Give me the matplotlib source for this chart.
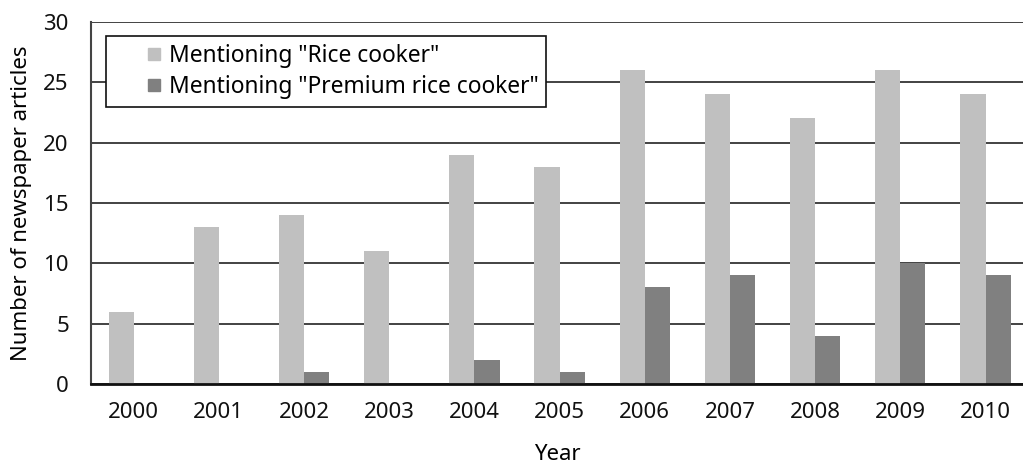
import matplotlib
matplotlib.use('Agg')
from matplotlib import pyplot as plt
from matplotlib.lines import Line2D
import numpy as np

years = ['2000', '2001', '2002', '2003', '2004', '2005',
         '2006', '2007', '2008', '2009', '2010']
rice_cooker = [6, 13, 14, 11, 19, 18, 26, 24, 22, 26, 24]
premium_rice_cooker = [0, 0, 1, 0, 2, 1, 8, 9, 4, 10, 9]
labels = ['Mentioning "Rice cooker"', 'Mentioning "Premium rice cooker"']
colors = ['#c0c0c0', '#808080']

plt.rcParams['font.family'] = ['Noto Sans', 'DejaVu Sans']

fig = plt.figure(figsize=(10.23, 4.65), dpi=100)
ax = fig.add_axes([0.089, 0.174, 0.911, 0.779])

x = np.arange(len(years))
w = 0.295
ax.bar(x - w / 2, rice_cooker, w, color=colors[0], zorder=2)
ax.bar(x + w / 2, premium_rice_cooker, w, color=colors[1], zorder=2)

ax.set_ylim(0, 30)
ax.set_yticks(range(0, 31, 5))
ax.set_xlim(-0.5, 10.44)
ax.set_xticks(x)
ax.set_xticklabels(years)
ax.yaxis.grid(True, color='#222222', linewidth=1.2, zorder=1)
ax.set_axisbelow(True)

for s in ['top', 'right']:
    ax.spines[s].set_visible(False)
ax.spines['left'].set_color('#444444')
ax.spines['left'].set_linewidth(1.5)
ax.spines['bottom'].set_color('#111111')
ax.spines['bottom'].set_linewidth(2)
ax.tick_params(length=0, labelsize=16, pad=13, colors='#111111')
ax.tick_params(axis='y', pad=16)

ax.set_xlabel('Year', fontsize=16, labelpad=15)
ax.set_ylabel('Number of newspaper articles', fontsize=16, labelpad=8)

# square markers as legend keys, placed away from the frame edge
handles = [Line2D([], [], linestyle='none', marker='s', markersize=9,
                  markerfacecolor=c, markeredgecolor=c) for c in colors]
leg = ax.legend(handles, labels, loc='upper left',
                bbox_to_anchor=(0.016, 0.961), fontsize=16.4,
                frameon=True, fancybox=False, handlelength=3.5,
                handletextpad=-1.1, borderpad=0.35, labelspacing=0.3,
                borderaxespad=0)
leg.get_frame().set_edgecolor('#111111')
leg.get_frame().set_linewidth(1.2)
leg.get_frame().set_alpha(1)

plt.savefig('out.png', dpi=100)
